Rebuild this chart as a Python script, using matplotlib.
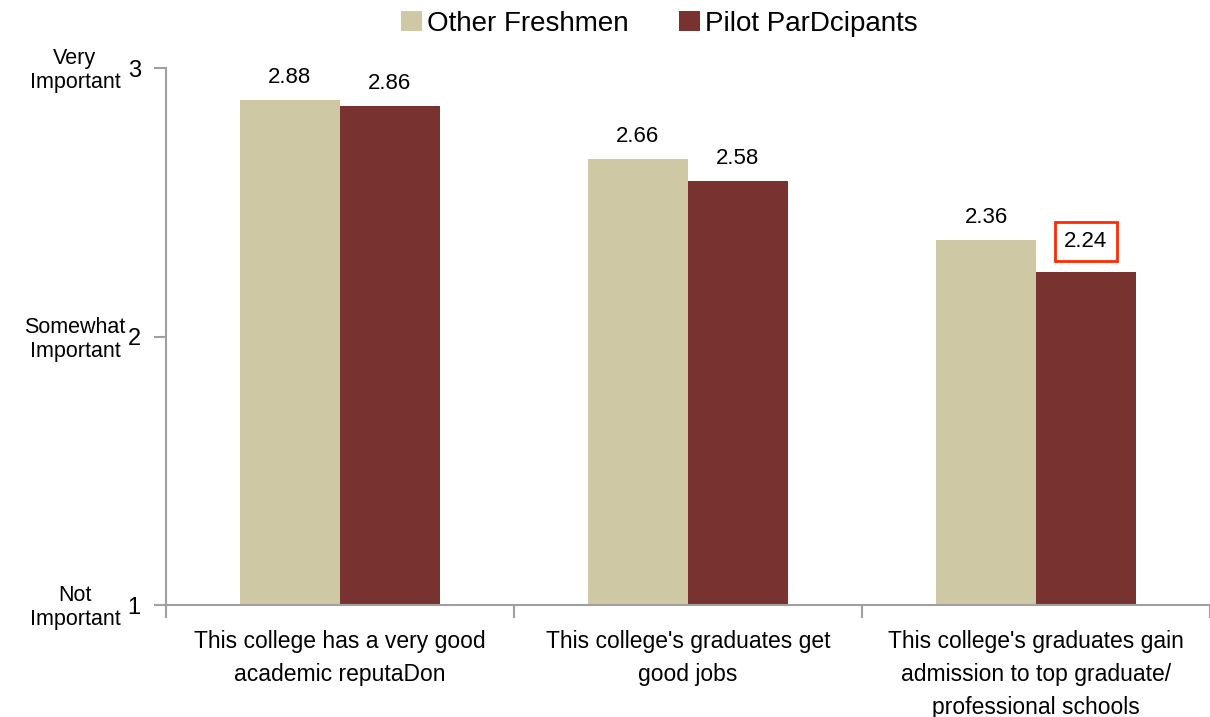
import matplotlib.pyplot as plt
import numpy as np

plt.rcParams['font.family'] = ['Liberation Sans', 'DejaVu Sans']

categories = ["This college has a very good\nacademic reputaDon",
              "This college's graduates get\ngood jobs",
              "This college's graduates gain\nadmission to top graduate/\nprofessional schools"]
other_freshmen = [2.88, 2.66, 2.36]
pilot = [2.86, 2.58, 2.24]
series_names = ["Other Freshmen", "Pilot ParDcipants"]
y_ticks = [1, 2, 3]
y_labels = ["Not\nImportant", "Somewhat\nImportant", "Very\nImportant"]

beige = '#cfc8a5'
maroon = '#78322f'
axis_gray = '#a0a0a0'

fig = plt.figure(figsize=(12.1, 7.17), dpi=100)
ax = fig.add_axes([0.137, 0.156, 0.863, 0.749])

x = np.arange(len(categories))
w = 0.287
b1 = ax.bar(x - w / 2, np.array(other_freshmen) - 1, w, bottom=1, color=beige, label=series_names[0])
b2 = ax.bar(x + w / 2, np.array(pilot) - 1, w, bottom=1, color=maroon, label=series_names[1])

for i, v in enumerate(other_freshmen):
    ax.text(x[i] - w / 2, v + 0.045, f"{v:.2f}", ha='center', va='bottom', fontsize=16)
for i, v in enumerate(pilot):
    bbox = None
    off = 0.045
    if i == 2:
        bbox = dict(boxstyle='square,pad=0.42', fc='white', ec='#ff2a00', lw=2)
        off = 0.075
    ax.text(x[i] + w / 2, v + off, f"{v:.2f}", ha='center', va='bottom', fontsize=16, bbox=bbox)

ax.set_xlim(-0.5, 2.5)
ax.set_ylim(1, 3)
ax.set_yticks(y_ticks)
ax.set_yticklabels([str(t) for t in y_ticks], fontsize=17)
for t, lab in zip(y_ticks, y_labels):
    ax.text(-0.087, t - 0.01, lab, transform=ax.get_yaxis_transform(), ha='center', va='center',
            fontsize=15.5, linespacing=1.2)

ax.set_xticks(x)
ax.set_xticklabels(categories, fontsize=16.5, linespacing=1.55)
ax.tick_params(axis='x', length=0, pad=18)
ax.set_xticks([-0.5, 0.5, 1.5, 2.5], minor=True)
ax.tick_params(axis='x', which='minor', length=9, color=axis_gray, width=1.5)
ax.tick_params(axis='y', length=9, color=axis_gray, width=1.5, pad=9)

for s in ['top', 'right']:
    ax.spines[s].set_visible(False)
for s in ['left', 'bottom']:
    ax.spines[s].set_color(axis_gray)
    ax.spines[s].set_linewidth(1.5)

fig.legend(handles=[b1, b2], loc='upper center', bbox_to_anchor=(0.545, 1.02), ncol=2,
           frameon=False, fontsize=20, handlelength=0.75, handleheight=0.75,
           handletextpad=0.2, columnspacing=1.8)

fig.savefig('out.png', dpi=100)
